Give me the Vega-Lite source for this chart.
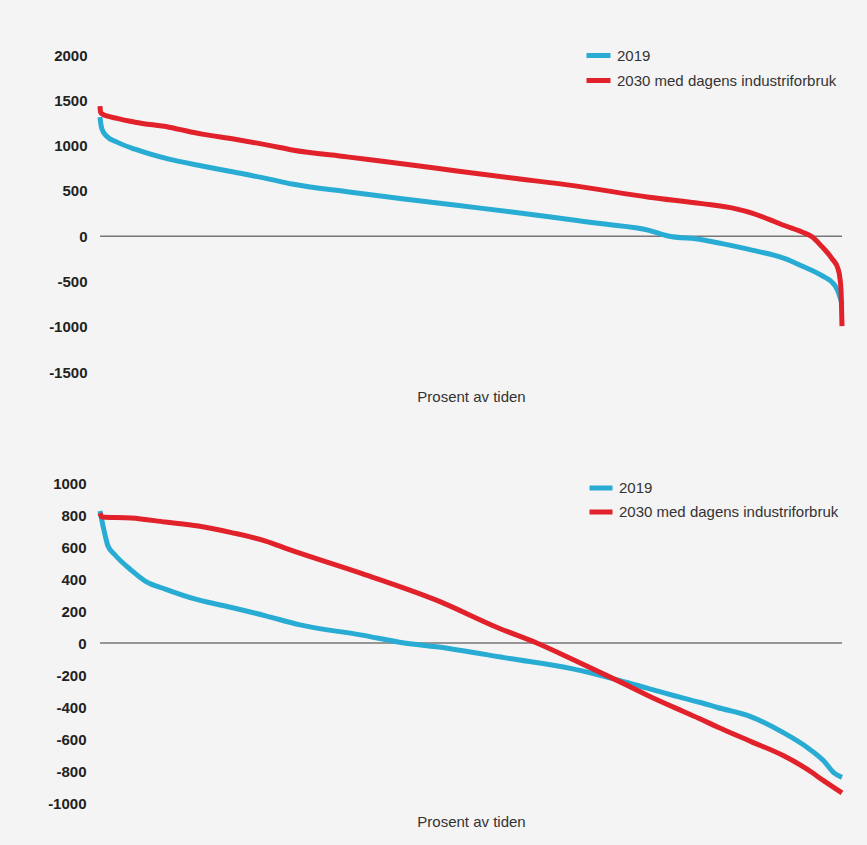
{
  "$schema": "https://vega.github.io/schema/vega-lite/v6.json",
  "background": "#f4f4f4",
  "padding": {"left": 47, "top": 41, "right": 20, "bottom": 16},
  "config": {
    "font": "Liberation Sans",
    "view": {"stroke": null},
    "axis": {"grid": false, "domain": false, "ticks": false, "labelOverlap": false},
    "axisY": {"labelOverlap": false, "labelFontWeight": "bold", "labelFontSize": 15, "labelColor": "#222222", "title": null},
    "line": {"strokeWidth": 5, "interpolate": "monotone"}
  },
  "datasets": {
    "top": [
      {"pct": 0, "value": 1314, "series": "2019"},
      {"pct": 0.13, "value": 1230, "series": "2019"},
      {"pct": 0.27, "value": 1180, "series": "2019"},
      {"pct": 0.94, "value": 1100, "series": "2019"},
      {"pct": 2.29, "value": 1038, "series": "2019"},
      {"pct": 4.72, "value": 960, "series": "2019"},
      {"pct": 9.3, "value": 850, "series": "2019"},
      {"pct": 13.75, "value": 775, "series": "2019"},
      {"pct": 18.19, "value": 705, "series": "2019"},
      {"pct": 22.78, "value": 630, "series": "2019"},
      {"pct": 25.88, "value": 575, "series": "2019"},
      {"pct": 33.3, "value": 490, "series": "2019"},
      {"pct": 40.7, "value": 414, "series": "2019"},
      {"pct": 48.1, "value": 340, "series": "2019"},
      {"pct": 55.53, "value": 267, "series": "2019"},
      {"pct": 64.02, "value": 175, "series": "2019"},
      {"pct": 67.7, "value": 136, "series": "2019"},
      {"pct": 73.99, "value": 64, "series": "2019"},
      {"pct": 76.42, "value": 5, "series": "2019"},
      {"pct": 81.13, "value": -39, "series": "2019"},
      {"pct": 83.83, "value": -83, "series": "2019"},
      {"pct": 87.87, "value": -155, "series": "2019"},
      {"pct": 92.32, "value": -248, "series": "2019"},
      {"pct": 94.61, "value": -330, "series": "2019"},
      {"pct": 97.3, "value": -436, "series": "2019"},
      {"pct": 99.06, "value": -547, "series": "2019"},
      {"pct": 99.6, "value": -640, "series": "2019"},
      {"pct": 100, "value": -750, "series": "2019"},
      {"pct": 0, "value": 1435, "series": "2030 med dagens industriforbruk"},
      {"pct": 0.07, "value": 1370, "series": "2030 med dagens industriforbruk"},
      {"pct": 0.27, "value": 1350, "series": "2030 med dagens industriforbruk"},
      {"pct": 2.3, "value": 1300, "series": "2030 med dagens industriforbruk"},
      {"pct": 4.72, "value": 1258, "series": "2030 med dagens industriforbruk"},
      {"pct": 9.3, "value": 1203, "series": "2030 med dagens industriforbruk"},
      {"pct": 13.75, "value": 1126, "series": "2030 med dagens industriforbruk"},
      {"pct": 18.19, "value": 1070, "series": "2030 med dagens industriforbruk"},
      {"pct": 22.78, "value": 1002, "series": "2030 med dagens industriforbruk"},
      {"pct": 25.88, "value": 952, "series": "2030 med dagens industriforbruk"},
      {"pct": 33.3, "value": 875, "series": "2030 med dagens industriforbruk"},
      {"pct": 40.7, "value": 800, "series": "2030 med dagens industriforbruk"},
      {"pct": 48.1, "value": 720, "series": "2030 med dagens industriforbruk"},
      {"pct": 55.53, "value": 642, "series": "2030 med dagens industriforbruk"},
      {"pct": 64.02, "value": 555, "series": "2030 med dagens industriforbruk"},
      {"pct": 73.99, "value": 430, "series": "2030 med dagens industriforbruk"},
      {"pct": 81.13, "value": 359, "series": "2030 med dagens industriforbruk"},
      {"pct": 85.58, "value": 304, "series": "2030 med dagens industriforbruk"},
      {"pct": 87.87, "value": 255, "series": "2030 med dagens industriforbruk"},
      {"pct": 90.16, "value": 185, "series": "2030 med dagens industriforbruk"},
      {"pct": 92.32, "value": 115, "series": "2030 med dagens industriforbruk"},
      {"pct": 94.61, "value": 46, "series": "2030 med dagens industriforbruk"},
      {"pct": 95.96, "value": -6, "series": "2030 med dagens industriforbruk"},
      {"pct": 97.3, "value": -116, "series": "2030 med dagens industriforbruk"},
      {"pct": 98.65, "value": -248, "series": "2030 med dagens industriforbruk"},
      {"pct": 99.46, "value": -359, "series": "2030 med dagens industriforbruk"},
      {"pct": 99.73, "value": -469, "series": "2030 med dagens industriforbruk"},
      {"pct": 99.87, "value": -600, "series": "2030 med dagens industriforbruk"},
      {"pct": 100, "value": -994, "series": "2030 med dagens industriforbruk"}
    ],
    "bottom": [
      {"pct": 0, "value": 825, "series": "2019"},
      {"pct": 0.27, "value": 762, "series": "2019"},
      {"pct": 0.68, "value": 675, "series": "2019"},
      {"pct": 1.08, "value": 606, "series": "2019"},
      {"pct": 2.03, "value": 550, "series": "2019"},
      {"pct": 4.19, "value": 456, "series": "2019"},
      {"pct": 6.09, "value": 387, "series": "2019"},
      {"pct": 8.8, "value": 337, "series": "2019"},
      {"pct": 13.26, "value": 269, "series": "2019"},
      {"pct": 17.73, "value": 222, "series": "2019"},
      {"pct": 22.33, "value": 170, "series": "2019"},
      {"pct": 26.8, "value": 115, "series": "2019"},
      {"pct": 35.32, "value": 49, "series": "2019"},
      {"pct": 41.0, "value": 0, "series": "2019"},
      {"pct": 45.33, "value": -24, "series": "2019"},
      {"pct": 55.21, "value": -97, "series": "2019"},
      {"pct": 63.73, "value": -162, "series": "2019"},
      {"pct": 70.1, "value": -235, "series": "2019"},
      {"pct": 73.75, "value": -282, "series": "2019"},
      {"pct": 78.62, "value": -345, "series": "2019"},
      {"pct": 80.92, "value": -372, "series": "2019"},
      {"pct": 83.22, "value": -403, "series": "2019"},
      {"pct": 87.69, "value": -460, "series": "2019"},
      {"pct": 92.15, "value": -562, "series": "2019"},
      {"pct": 95.4, "value": -656, "series": "2019"},
      {"pct": 97.56, "value": -738, "series": "2019"},
      {"pct": 98.92, "value": -812, "series": "2019"},
      {"pct": 100, "value": -840, "series": "2019"},
      {"pct": 0, "value": 812, "series": "2030 med dagens industriforbruk"},
      {"pct": 0.27, "value": 787, "series": "2030 med dagens industriforbruk"},
      {"pct": 4.19, "value": 781, "series": "2030 med dagens industriforbruk"},
      {"pct": 8.8, "value": 756, "series": "2030 med dagens industriforbruk"},
      {"pct": 13.26, "value": 731, "series": "2030 med dagens industriforbruk"},
      {"pct": 17.73, "value": 690, "series": "2030 med dagens industriforbruk"},
      {"pct": 22.33, "value": 637, "series": "2030 med dagens industriforbruk"},
      {"pct": 25.44, "value": 585, "series": "2030 med dagens industriforbruk"},
      {"pct": 35.32, "value": 434, "series": "2030 med dagens industriforbruk"},
      {"pct": 45.33, "value": 268, "series": "2030 med dagens industriforbruk"},
      {"pct": 53.86, "value": 91, "series": "2030 med dagens industriforbruk"},
      {"pct": 58.86, "value": 0, "series": "2030 med dagens industriforbruk"},
      {"pct": 63.73, "value": -103, "series": "2030 med dagens industriforbruk"},
      {"pct": 70.1, "value": -243, "series": "2030 med dagens industriforbruk"},
      {"pct": 73.75, "value": -326, "series": "2030 med dagens industriforbruk"},
      {"pct": 78.62, "value": -428, "series": "2030 med dagens industriforbruk"},
      {"pct": 80.92, "value": -475, "series": "2030 med dagens industriforbruk"},
      {"pct": 83.22, "value": -525, "series": "2030 med dagens industriforbruk"},
      {"pct": 87.69, "value": -615, "series": "2030 med dagens industriforbruk"},
      {"pct": 92.15, "value": -705, "series": "2030 med dagens industriforbruk"},
      {"pct": 95.4, "value": -792, "series": "2030 med dagens industriforbruk"},
      {"pct": 97.56, "value": -862, "series": "2030 med dagens industriforbruk"},
      {"pct": 100, "value": -937, "series": "2030 med dagens industriforbruk"}
    ],
    "zero": [{"value": 0}]
  },
  "spacing": 70,
  "vconcat": [
    {
      "width": 742,
      "height": 317,
      "layer": [
        {
          "data": {"name": "zero"},
          "mark": {"type": "rule", "color": "#777777", "strokeWidth": 1.5},
          "encoding": {"y": {"field": "value", "type": "quantitative", "scale": {"domain": [-1500, 2000], "nice": false},
            "axis": {"values": [-1500, -1000, -500, 0, 500, 1000, 1500, 2000], "labelExpr": "datum.value + ''", "labelOverlap": false, "title": null, "labelPadding": 13}}}
        },
        {
          "data": {"name": "top"},
          "mark": {"type": "line"},
          "encoding": {
            "x": {"field": "pct", "type": "quantitative", "scale": {"domain": [0, 100]},
              "axis": {"labels": false, "title": "Prosent av tiden", "titleFontWeight": "normal", "titleFontSize": 15, "titleColor": "#333333", "titlePadding": 17}},
            "y": {"field": "value", "type": "quantitative", "scale": {"domain": [-1500, 2000], "nice": false},
              "axis": {"values": [-1500, -1000, -500, 0, 500, 1000, 1500, 2000], "labelExpr": "datum.value + ''", "labelOverlap": false, "title": null, "labelPadding": 13}},
            "color": {"field": "series", "type": "nominal",
              "scale": {"domain": ["2019", "2030 med dagens industriforbruk"], "range": ["#29acd3", "#e1222b"]},
              "legend": {"orient": "none", "legendX": 484, "legendY": -14, "title": null, "symbolType": "stroke", "symbolStrokeWidth": 5, "symbolSize": 576, "labelFontSize": 15, "labelColor": "#333333", "labelOffset": 4, "labelLimit": 0, "rowPadding": 0}}
          }
        }
      ]
    },
    {
      "width": 742,
      "height": 320,
      "layer": [
        {
          "data": {"name": "zero"},
          "mark": {"type": "rule", "color": "#777777", "strokeWidth": 1.5},
          "encoding": {"y": {"field": "value", "type": "quantitative", "scale": {"domain": [-1000, 1000], "nice": false},
            "axis": {"values": [-1000, -800, -600, -400, -200, 0, 200, 400, 600, 800, 1000], "labelExpr": "datum.value + ''", "labelOverlap": false, "title": null, "labelPadding": 14}}}
        },
        {
          "data": {"name": "bottom"},
          "mark": {"type": "line"},
          "encoding": {
            "x": {"field": "pct", "type": "quantitative", "scale": {"domain": [0, 100]},
              "axis": {"labels": false, "title": "Prosent av tiden", "titleFontWeight": "normal", "titleFontSize": 15, "titleColor": "#333333", "titlePadding": 11}},
            "y": {"field": "value", "type": "quantitative", "scale": {"domain": [-1000, 1000], "nice": false},
              "axis": {"values": [-1000, -800, -600, -400, -200, 0, 200, 400, 600, 800, 1000], "labelExpr": "datum.value + ''", "labelOverlap": false, "title": null, "labelPadding": 14}},
            "color": {"field": "series", "type": "nominal",
              "scale": {"domain": ["2019", "2030 med dagens industriforbruk"], "range": ["#29acd3", "#e1222b"]},
              "legend": {"orient": "none", "legendX": 487, "legendY": -9, "title": null, "symbolType": "stroke", "symbolStrokeWidth": 5, "symbolSize": 529, "labelFontSize": 15, "labelColor": "#333333", "labelOffset": 4, "labelLimit": 0, "rowPadding": 0}}
          }
        }
      ]
    }
  ],
  "resolve": {"scale": {"y": "independent", "color": "independent"}, "legend": {"color": "independent"}}
}
